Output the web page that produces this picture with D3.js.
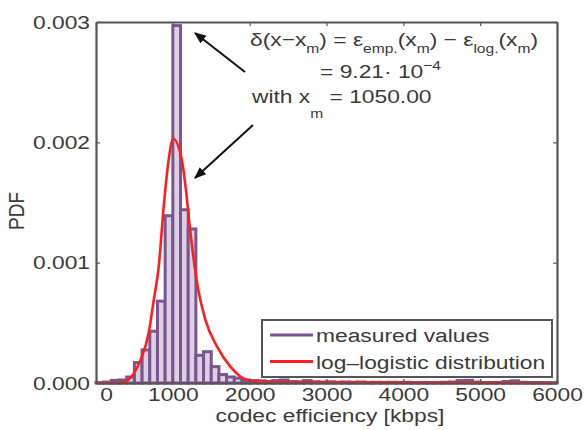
<!DOCTYPE html>
<html>
<head>
<meta charset="utf-8">
<script src="https://cdn.jsdelivr.net/npm/d3@7/dist/d3.min.js"></script>
<style>
	body { margin: 0; background: #fff; }
	text { font-family: "Liberation Sans", Arial, sans-serif; fill: #3a3a3a; }
</style>
</head>
<body>
<svg id="chart" width="584" height="430"></svg>
<script>
	// histogram bins (kbps), width 100
	var binStarts = [0,100,200,300,400,500,600,700,800,900,
		1000,1100,1200,1300,1400,1500,1600,1700,1800,1900,
		2000,2100,2200,2300,2400,2500,2600,2700,2800,2900,
		3000,3100,3200,3300,3400,3500,3600,3700,3800,3900,
		4000,4100,4200,4300,4400,4500,4600,4700,4800,4900,
		5000,5100,5200,5300,5400,5500,5600,5700,5800,5900];
	var binWidth = 100;
	// measured PDF per bin
	var pdfValues = [0.000003,0.000008,0.000022,0.000025,0.00005,0.00017,0.000275,0.00043,0.00068,0.00139,
		0.00297,0.00144,0.00128,0.00023,0.00026,0.000136,0.00007,0.00005,0.00004,0.000025,
		0.00002,0.000018,0.000012,0.00002,0.000025,0.000012,0.00001,0.00002,0.00001,0.000008,
		0.00001,0.000006,0.000008,0.000006,0.000008,0.000005,0.000006,0.000005,0.000006,0.000005,
		0.000006,0.000004,0.000005,0.000004,0.000005,0.000006,0.000008,0.00002,0.000022,0.000008,
		0.000005,0.000004,0.000005,0.000012,0.000018,0.000006,0.000004,0.000004,0.000003,0.000003];
	// log-logistic fit
	var fitX = [0,300,361,492,579,687,752,817,882,947,1005,1121,1164,1229,1316,1424,1576,1749,1966,2300,6000];
	var fitY = [0,0,0.000005,0.00008,0.00019,0.00042,0.00069,0.00097,0.00147,0.00186,0.00203,0.00184,0.00164,0.00125,0.00083,0.000525,0.000303,0.000136,0.000025,0.000005,0];

	var xTicks = [0,1000,2000,3000,4000,5000,6000];
	var yTicks = [0,0.001,0.002,0.003];

	var svg = d3.select("#chart");
	var mLeft = 96, mRight = 557, mTop = 22, mBottom = 383;
	var sx = 1.2, fs = 19;
	var frameColor = "#555";

	var x = d3.scaleLinear().domain([0, 6000]).range([mLeft, mRight]);
	var y = d3.scaleLinear().domain([0, 0.003]).range([mBottom, mTop]);

	// bars
	svg.append("g").selectAll("rect")
		.data(pdfValues)
		.enter().append("rect")
		.attr("x", function(d, i){ return x(binStarts[i]); })
		.attr("width", function(d, i){ return x(binStarts[i] + binWidth) - x(binStarts[i]); })
		.attr("y", function(d){ return y(d); })
		.attr("height", function(d){ return mBottom - y(d); })
		.attr("fill", "#ddd0e5")
		.attr("stroke", "#7a5590")
		.attr("stroke-width", 3);

	// fit curve
	var line = d3.line()
		.x(function(d){ return x(d[0]); })
		.y(function(d){ return y(d[1]); })
		.curve(d3.curveMonotoneX);
	svg.append("path")
		.datum(fitX.map(function(v, i){ return [v, fitY[i]]; }))
		.attr("d", line)
		.attr("fill", "none")
		.attr("stroke", "#ff1e1e")
		.attr("stroke-width", 2.6);

	// axes
	function styleAxis(g){
		g.select(".domain").attr("stroke", frameColor).attr("stroke-width", 2.2);
		g.selectAll(".tick line").attr("stroke", frameColor).attr("stroke-width", 1.2);
		g.selectAll("text").style("font-size", fs + "px").attr("fill", "#3a3a3a");
	}
	var xAxis = svg.append("g")
		.attr("transform", "translate(0," + mBottom + ")")
		.call(d3.axisBottom(x).tickValues(xTicks).tickSizeInner(-4).tickSizeOuter(0).tickFormat(d3.format("d")))
		.call(styleAxis);
	xAxis.selectAll("text").attr("y", 5).attr("transform", function(d){ return "translate(" + (d == 0 ? 10 : 0) + ",0) scale(" + sx + ",1)"; });

	var yAxis = svg.append("g")
		.attr("transform", "translate(" + mLeft + ",0)")
		.call(d3.axisLeft(y).tickValues(yTicks).tickSizeInner(-4).tickSizeOuter(0).tickFormat(d3.format(".3f")))
		.call(styleAxis);
	yAxis.selectAll("text").attr("x", -5).attr("transform", "scale(" + sx + ",1)");

	svg.append("g")
		.attr("transform", "translate(0," + mTop + ")")
		.call(d3.axisTop(x).tickValues(xTicks).tickSizeInner(-4).tickSizeOuter(0).tickFormat(""))
		.call(styleAxis);
	svg.append("g")
		.attr("transform", "translate(" + mRight + ",0)")
		.call(d3.axisRight(y).tickValues(yTicks).tickSizeInner(-4).tickSizeOuter(0).tickFormat(""))
		.call(styleAxis);

	function label(x0, y0, anchor, size){
		return svg.append("text")
			.attr("transform", "translate(" + x0 + "," + y0 + ") scale(" + sx + ",1)")
			.attr("text-anchor", anchor || "start")
			.style("font-size", (size || fs) + "px");
	}

	// axis titles
	label(330, 422, "middle").text("codec efficiency [kbps]");
	svg.append("text")
		.attr("transform", "translate(24,211) scale(" + sx + ",1) rotate(-90)")
		.attr("text-anchor", "middle")
		.style("font-size", fs + "px")
		.text("PDF");

	// legend
	var lg = svg.append("g");
	lg.append("rect").attr("x", 262).attr("y", 320).attr("width", 290).attr("height", 57)
		.attr("fill", "#fff").attr("stroke", frameColor).attr("stroke-width", 2);
	var legendItems = [["measured values", "#7a5590"], ["log\u2013logistic distribution", "#ff1e1e"]];
	legendItems.forEach(function(it, i){
		var ly = 335 + i * 26.5;
		lg.append("line").attr("x1", 270).attr("x2", 313).attr("y1", ly).attr("y2", ly)
			.attr("stroke", it[1]).attr("stroke-width", 3);
		label(316, ly + 7, "start").text(it[0]);
	});

	// arrows
	svg.append("defs").append("marker")
		.attr("id", "head").attr("viewBox", "0 0 10 10").attr("refX", 9).attr("refY", 5)
		.attr("markerWidth", 6).attr("markerHeight", 6).attr("orient", "auto")
		.append("path").attr("d", "M0,1 L10,5 L0,9 z").attr("fill", "#111");
	[[245, 72, 195, 33], [253, 125, 195, 178]].forEach(function(a){
		svg.append("line").attr("x1", a[0]).attr("y1", a[1]).attr("x2", a[2]).attr("y2", a[3])
			.attr("stroke", "#111").attr("stroke-width", 2).attr("marker-end", "url(#head)");
	});

	// annotation
	var sub = 13;
	var t = label(250, 46, "start");
	t.append("tspan").text("\u03b4(x\u2212x");
	t.append("tspan").attr("dy", 7).style("font-size", sub + "px").text("m");
	t.append("tspan").attr("dy", -7).text(") = \u03b5");
	t.append("tspan").attr("dy", 7).style("font-size", sub + "px").text("emp.");
	t.append("tspan").attr("dy", -7).text("(x");
	t.append("tspan").attr("dy", 7).style("font-size", sub + "px").text("m");
	t.append("tspan").attr("dy", -7).text(") \u2212 \u03b5");
	t.append("tspan").attr("dy", 7).style("font-size", sub + "px").text("log.");
	t.append("tspan").attr("dy", -7).text("(x");
	t.append("tspan").attr("dy", 7).style("font-size", sub + "px").text("m");
	t.append("tspan").attr("dy", -7).text(")");

	var t2 = label(320, 78, "start");
	t2.append("tspan").text("= 9.21\u00b7 10");
	t2.append("tspan").attr("dy", -8).style("font-size", sub + "px").text("\u22124");

	var t3 = label(252, 103, "start");
	t3.append("tspan").text("with x");
	t3.append("tspan").attr("dy", 15).style("font-size", sub + "px").text("m");
	t3.append("tspan").attr("dy", -15).text(" = 1050.00");
</script>
</body>
</html>
